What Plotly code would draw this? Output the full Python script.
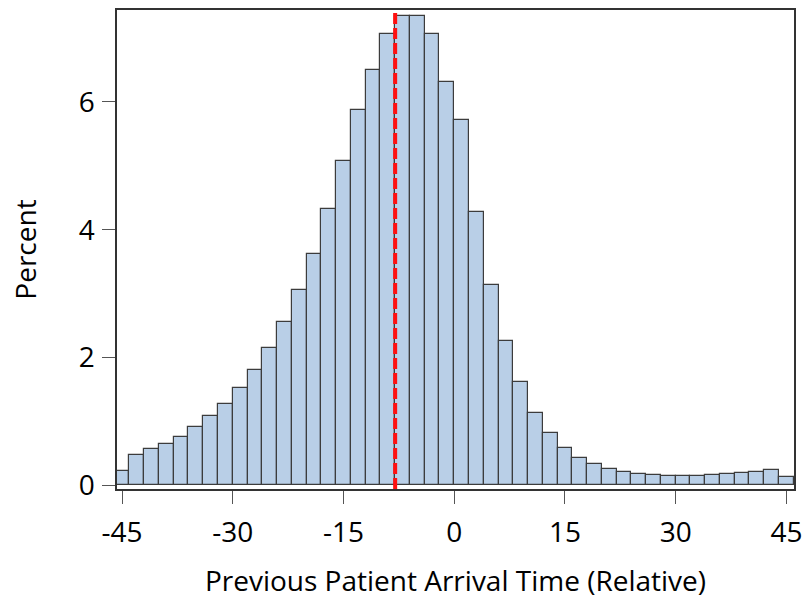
import plotly.graph_objects as go

bin_centers = list(range(-45, 46, 2))
percent = [0.22, 0.48, 0.56, 0.65, 0.75, 0.91, 1.08, 1.27, 1.52, 1.81,
           2.14, 2.55, 3.05, 3.62, 4.33, 5.08, 5.87, 6.50, 7.07, 7.35,
           7.34, 7.06, 6.32, 5.71, 4.27, 3.13, 2.25, 1.62, 1.13, 0.81,
           0.58, 0.43, 0.33, 0.26, 0.21, 0.18, 0.16, 0.15, 0.145, 0.15,
           0.16, 0.17, 0.19, 0.21, 0.24, 0.135]
ref_line_x = -8
x_ticks = [-45, -30, -15, 0, 15, 30, 45]
x_tick_labels = ["-45", "-30", "-15", "0", "15", "30", "45"]
y_ticks = [0, 2, 4, 6]
y_tick_labels = ["0", "2", "4", "6"]

FONT = "Open Sans"
FS = 28

fig = go.Figure()
fig.add_trace(go.Bar(
    x=bin_centers, y=percent, width=2,
    marker=dict(color="#B9CFE7", line=dict(color="#3c3c3c", width=1.2)),
    showlegend=False,
))
fig.add_shape(type="line", xref="x", yref="paper", x0=ref_line_x, x1=ref_line_x,
              y0=0, y1=1, line=dict(color="#FF1010", width=4, dash="11px,4px"))

axis_common = dict(showline=True, linecolor="#333333", linewidth=1.5, mirror=True,
                   ticks="outside", ticklen=13, tickcolor="#555555", tickwidth=1,
                   showgrid=False, zeroline=False,
                   tickfont=dict(family=FONT, size=FS, color="black"))

fig.update_layout(
    width=810, height=603,
    margin=dict(l=117, r=11, t=8, b=114),
    paper_bgcolor="white", plot_bgcolor="white",
    bargap=0,
    font=dict(family=FONT, color="black"),
    xaxis=dict(range=[-45.68, 46.03], tickvals=x_ticks, ticktext=x_tick_labels,
               ticklabelstandoff=5,
               title=dict(text="Previous Patient Arrival Time (Relative)",
                          font=dict(family=FONT, size=FS), standoff=22),
               **axis_common),
    yaxis=dict(range=[-0.06, 7.44], tickvals=y_ticks, ticktext=y_tick_labels,
               ticklabelstandoff=2,
               title=dict(text="Percent", font=dict(family=FONT, size=FS), standoff=34),
               **axis_common),
)

fig.write_html("out.html")
